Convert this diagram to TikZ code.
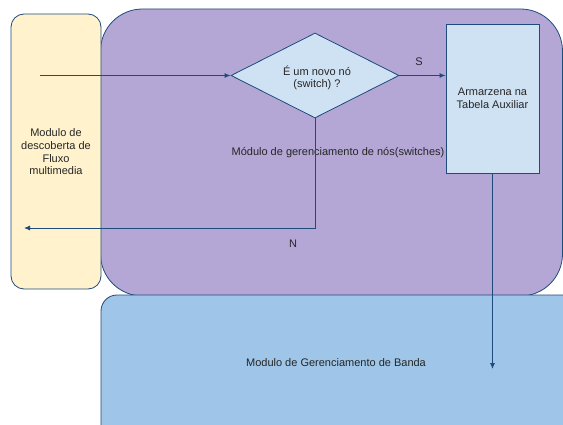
\documentclass[tikz,border=0pt]{standalone}
\usepackage{fontspec}
\setmainfont{Liberation Sans}
\usetikzlibrary{shapes.geometric,arrows.meta}
\definecolor{edge}{HTML}{1F4A7C}
\definecolor{yellowfill}{HTML}{FFF2CC}
\definecolor{purplefill}{HTML}{B4A7D6}
\definecolor{palefill}{HTML}{CFE2F3}
\definecolor{bluefill}{HTML}{9FC5E8}
\begin{document}
\begin{tikzpicture}[x=1pt,y=-1pt,
  every node/.style={font=\fontsize{11}{12.7}\selectfont, text=black!85},
  module/.style={draw=edge, line width=0.8pt, inner sep=0pt},
  label/.style={align=center, inner sep=0pt},
  flow/.style={draw=edge, line width=0.9pt},
  arrowhead/.style={-{Latex[length=6pt,width=5pt]}}]
\useasboundingbox (0,0) rectangle (563,425);
\clip (0,0) rectangle (563,425);
% modules
\node[module, fill=purplefill, rounded corners=42pt, minimum width=462pt, minimum height=287pt] (nodes) at (331.5,152.5) {};
\node[module, fill=yellowfill, rounded corners=13pt, minimum width=90pt, minimum height=275pt] (flow) at (56,151.5) {};
\node[module, fill=bluefill, rounded corners=16pt, minimum width=480pt, minimum height=160pt] (band) at (341,375) {};
\node[label] (flowtxt) at (56,152) {Modulo de\\descoberta de\\Fluxo\\multimedia};
\node[label] (nodestxt) at (338,153) {Módulo de gerenciamento de nós(switches)};
\node[label] (bandtxt) at (336,363) {Modulo de Gerenciamento de Banda};
% decision and storage
\node[module, shape=diamond, fill=palefill, minimum width=168pt, minimum height=85pt, align=center] (novo) at (315,75.5) {};
\node[label] (novotxt) at (317,78) {É um novo nó\\(switch) ?};
\node[module, fill=palefill, minimum width=93pt, minimum height=149pt] (tab) at (492.5,98.5) {};
\node[label] (tabtxt) at (492.5,98) {Armarzena na\\Tabela Auxiliar};
% connectors
\coordinate (in) at (40,75.5);
\coordinate (out) at (24,228);
\coordinate (bandin) at (492.5,369);
\draw[flow, arrowhead] (in) -- (novo.west);
\draw[flow, arrowhead] (novo.east) -- (novo.east -| tab.west);
\draw[flow, arrowhead] (novo.south) |- (out);
\draw[flow, arrowhead] (tab.south) -- (bandin);
\node (s) at (419,62) {S};
\node (n) at (293,244) {N};
\end{tikzpicture}
\end{document}
